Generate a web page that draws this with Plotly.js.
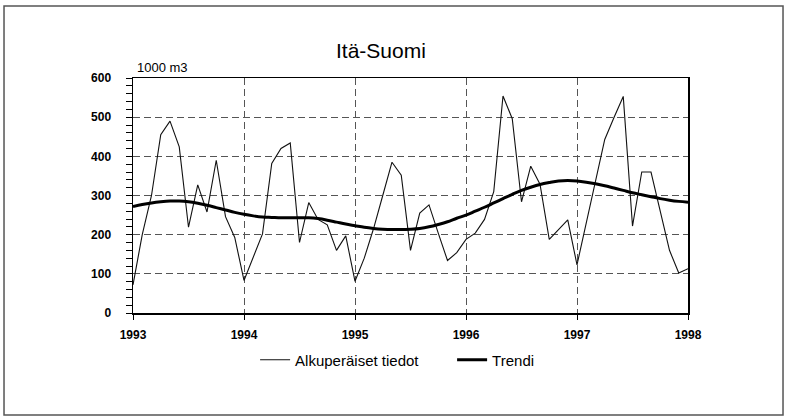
<!DOCTYPE html>
<html>
<head>
<meta charset="utf-8">
<script src="https://cdn.plot.ly/plotly-3.0.1.min.js"></script>
<style>html,body{margin:0;padding:0;background:#fff;}#chart{width:787px;height:419px;}</style>
</head>
<body>
<div id="chart"></div>
<script>
// Monthly values, 1000 m3 (January 1993 ... January 1998)
const tickYears = [1993, 1994, 1995, 1996, 1997, 1998];
const raw1993 = [72, 200, 300, 455, 490, 424, 219, 327, 258, 390, 246, 193];
const raw1994 = [83, 145, 202, 382, 420, 434, 180, 282, 239, 225, 160, 197];
const raw1995 = [81, 140, 215, 300, 385, 352, 160, 255, 276, 204, 134, 154];
const raw1996 = [188, 204, 239, 310, 554, 496, 284, 375, 329, 188, 214, 238];
const raw1997 = [123, 228, 333, 443, 499, 553, 222, 360, 360, 256, 160, 102];
const raw1998 = [113];

const trend1993 = [272, 277, 281, 284, 286, 286, 284, 280, 275, 269, 263, 257];
const trend1994 = [252, 248, 245, 244, 243, 243, 243, 243, 241, 237, 232, 227];
const trend1995 = [223, 219, 216, 214, 213, 213, 214, 216, 220, 226, 233, 242];
const trend1996 = [250, 260, 270, 281, 292, 303, 313, 321, 328, 333, 337, 338];
const trend1997 = [337, 334, 330, 325, 319, 313, 307, 302, 297, 292, 288, 285];
const trend1998 = [283];

const seriesNames = ["Alkuperäiset tiedot", "Trendi"];
const chartTitle = "Itä-Suomi";
const unitLabel = "1000 m3";

const rawValues = [].concat(raw1993, raw1994, raw1995, raw1996, raw1997, raw1998);
const trendValues = [].concat(trend1993, trend1994, trend1995, trend1996, trend1997, trend1998);
const xMonths = rawValues.map((_, i) => tickYears[0] + i / 12);

const FONT = "'Liberation Sans', Arial, Helvetica, sans-serif";

const traces = [
  {
    x: xMonths, y: rawValues, type: "scatter", mode: "lines",
    name: seriesNames[0],
    line: {color: "#111", width: 1.1}
  },
  {
    x: xMonths, y: trendValues, type: "scatter", mode: "lines",
    name: seriesNames[1],
    line: {color: "#000", width: 3, shape: "spline", smoothing: 1}
  }
];

const layout = {
  width: 787, height: 419,
  margin: {l: 133, r: 99, t: 78, b: 106},
  paper_bgcolor: "#fff", plot_bgcolor: "#fff",
  font: {family: FONT, color: "#000"},
  title: {
    text: chartTitle, font: {family: FONT, size: 21, color: "#000"},
    x: 0.484, xref: "container", xanchor: "center",
    y: 0.878, yref: "container", yanchor: "middle"
  },
  showlegend: true,
  legend: {
    orientation: "h", x: 0.22, xanchor: "left", y: -0.13, yanchor: "top",
    font: {family: FONT, size: 15, color: "#000"},
    entrywidth: 152, bgcolor: "rgba(0,0,0,0)"
  },
  xaxis: {
    range: [tickYears[0], tickYears[tickYears.length - 1]],
    tickvals: tickYears, ticktext: tickYears.map(String),
    showgrid: true, gridcolor: "#555", gridwidth: 1, griddash: "7px,4px",
    showline: true, linecolor: "#000", linewidth: 1.5, mirror: true,
    ticks: "outside", ticklen: 5, tickcolor: "#000", tickwidth: 1,
    ticklabelstandoff: 5,
    tickfont: {family: FONT, size: 12, weight: "bold", color: "#000"},
    zeroline: false, fixedrange: true
  },
  yaxis: {
    range: [0, 600], tick0: 0, dtick: 100,
    showgrid: true, gridcolor: "#555", gridwidth: 1, griddash: "7px,4px",
    showline: true, linecolor: "#000", linewidth: 1.5, mirror: true,
    ticks: "outside", ticklen: 6, tickcolor: "#000", tickwidth: 1,
    minor: {dtick: 20, ticks: "outside", ticklen: 6, tickcolor: "#000", tickwidth: 1, showgrid: false},
    ticklabelstandoff: 12,
    tickfont: {family: FONT, size: 12, weight: "bold", color: "#000"},
    zeroline: false, fixedrange: true
  },
  annotations: [
    {
      text: unitLabel, xref: "paper", yref: "paper", x: 0.003, y: 1.043,
      xanchor: "left", yanchor: "middle", showarrow: false,
      font: {family: FONT, size: 13, color: "#000"}
    }
  ],
  shapes: [
    {
      type: "rect", xref: "paper", yref: "paper",
      x0: -0.2324, x1: 1.1712, y0: -0.434, y1: 1.306,
      line: {color: "#555", width: 1.5}, fillcolor: "rgba(0,0,0,0)", layer: "below"
    }
  ]
};

Plotly.newPlot("chart", traces, layout, {staticPlot: true, displayModeBar: false});
</script>
</body>
</html>
